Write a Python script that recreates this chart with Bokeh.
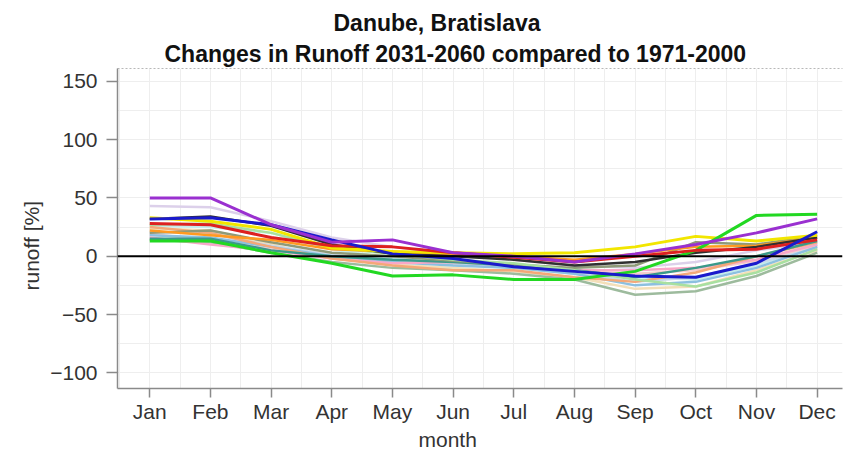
from bokeh.plotting import figure
from bokeh.models import Range1d, FixedTicker, LinearAxis, Span, Title
from bokeh.embed import file_html
from bokeh.resources import INLINE

months = ["Jan", "Feb", "Mar", "Apr", "May", "Jun", "Jul", "Aug", "Sep", "Oct", "Nov", "Dec"]
month_pos = list(range(1, 13))
y_ticks = [-100, -50, 0, 50, 100, 150]

# light / background ensemble members
lavender   = [43, 42, 30, 16, 8, 2, -3, -8, -10, -5, 5, 12]
lightcyan  = [26, 25, 20, 6, -2, -6, -10, -15, -18, -20, -8, 10]
wheat      = [24, 22, 10, -2, -7, -10, -13, -18, -28, -26, -12, 5]
lightpink  = [19, 14, 6, -1, -5, -7, -9, -13, -15, -12, -4, 9]
lightsteel = [21, 19, 9, 1, -3, -6, -9, -14, -22, -18, -6, 7]
sage       = [14, 12, 3, -5, -10, -12, -15, -20, -33, -30, -17, 3]
skyblue    = [18, 16, 8, 0, -5, -8, -10, -15, -25, -22, -10, 8]
pink       = [16, 10, 5, -2, -6, -5, -8, -12, -12, -10, -3, 10]
salmon     = [25, 20, 8, -2, -8, -12, -12, -18, -22, -14, 0, 12]
teal       = [15, 15, 5, 0, -3, -5, -8, -12, -18, -10, 0, 13]
olive      = [20, 22, 12, 3, 0, -4, -7, -10, -8, 12, 10, 18]
lightgreen = [27, 28, 20, 7, 2, -3, -6, -12, -20, -26, -14, 6]
orange     = [22, 18, 14, 6, 4, 1, 0, -3, 2, 8, 9, 16]
black_m    = [32, 34, 26, 10, 2, 0, -3, -8, -5, 3, 8, 16]
# prominent ensemble members
yellow     = [33, 30, 23, 7, 4, 3, 2, 3, 8, 17, 13, 18]
green      = [13, 13, 3, -6, -17, -16, -20, -20, -13, 5, 35, 36]
red        = [28, 27, 16, 9, 8, 3, -1, -5, 0, 5, 6, 14]
blue       = [32, 33, 27, 14, 2, -2, -9, -13, -17, -18, -6, 21]
purple     = [50, 50, 27, 12, 14, 3, 0, -5, 2, 10, 20, 32]

light_series = [
    (lavender, "#dcd0ea"), (lightcyan, "#c4ecec"), (wheat, "#f3dfb8"),
    (lightpink, "#f7cccc"), (lightsteel, "#c9d9ea"), (sage, "#9dbb9d"),
    (skyblue, "#8cc0e0"), (pink, "#f7a8c8"), (salmon, "#f4a878"),
    (teal, "#3a9a8a"), (olive, "#8f9a78"), (lightgreen, "#a8e0a0"),
    (orange, "#ff9a20"), (black_m, "#303030"),
]
main_series = [
    (yellow, "#f2e600"), (green, "#22d822"), (red, "#dd2020"),
    (blue, "#1a1acc"), (purple, "#9a30d0"),
]

FONT = "Liberation Sans"

p = figure(width=844, height=450, output_backend="svg", toolbar_location=None,
           x_range=Range1d(0.468, 12.418), y_range=Range1d(-113.4, 160.9),
           min_border_left=117, min_border_right=2, min_border_top=68,
           min_border_bottom=62)
p.outline_line_color = None
p.background_fill_color = "white"

# outermost title line
p.title.text = "Danube, Bratislava"
p.title.text_font = FONT
p.title.text_font_size = "23px"
p.title.text_font_style = "bold"
p.title.text_color = "#111111"
p.title.align = "left"
p.title.offset = 216
p.title.standoff = 2

# grid
p.xgrid.ticker = FixedTicker(ticks=[x / 2 for x in range(1, 26)])
p.ygrid.ticker = FixedTicker(ticks=list(range(-100, 151, 25)))
p.xgrid.grid_line_color = "#eeeeee"
p.ygrid.grid_line_color = "#eeeeee"

# axes
p.xaxis.ticker = FixedTicker(ticks=month_pos)
p.xaxis.major_label_overrides = {m: lab for m, lab in zip(month_pos, months)}
p.yaxis.ticker = FixedTicker(ticks=y_ticks)
for ax in (p.xaxis[0], p.yaxis[0]):
    ax.axis_line_color = "#8a8a8a"
    ax.axis_line_width = 1.5
    ax.major_tick_line_color = "#8a8a8a"
    ax.major_tick_line_width = 1.5
    ax.major_tick_in = 0
    ax.minor_tick_line_color = None
    ax.major_label_text_font = FONT
    ax.major_label_text_font_size = "21px"
    ax.major_label_text_color = "#333333"
p.yaxis.major_tick_out = 11
p.yaxis.major_label_standoff = 9
p.xaxis.major_tick_out = 9
p.xaxis.major_label_standoff = 2

top = LinearAxis(ticker=FixedTicker(ticks=[]), axis_line_color="#b8b8b8",
                 axis_line_dash="2 2", axis_line_width=1.2,
                 major_tick_out=0, major_tick_in=0, minor_tick_out=0,
                 minor_tick_in=0, major_label_text_font_size="0px")
p.add_layout(top, "above")
p.add_layout(Title(text="Changes in Runoff 2031-2060 compared to 1971-2000",
                   text_font=FONT, text_font_size="23px", text_font_style="bold",
                   text_color="#111111", align="left", offset=47, standoff=4),
             "above")

# axis titles
p.add_layout(Title(text="month", text_font=FONT, text_font_size="21px",
                   text_font_style="normal", text_color="#333333",
                   align="left", offset=301, standoff=0), "below")
p.add_layout(Title(text="runoff [%]", text_font=FONT, text_font_size="21px",
                   text_font_style="normal", text_color="#333333",
                   align="left", offset=98, standoff=10), "left")

for ys, col in light_series:
    p.line(month_pos, ys, line_color=col, line_width=2.5)

p.add_layout(Span(location=0, dimension="width", line_color="black", line_width=2))

for ys, col in main_series:
    p.line(month_pos, ys, line_color=col, line_width=3)

open("out.html", "w").write(file_html(p, INLINE))
